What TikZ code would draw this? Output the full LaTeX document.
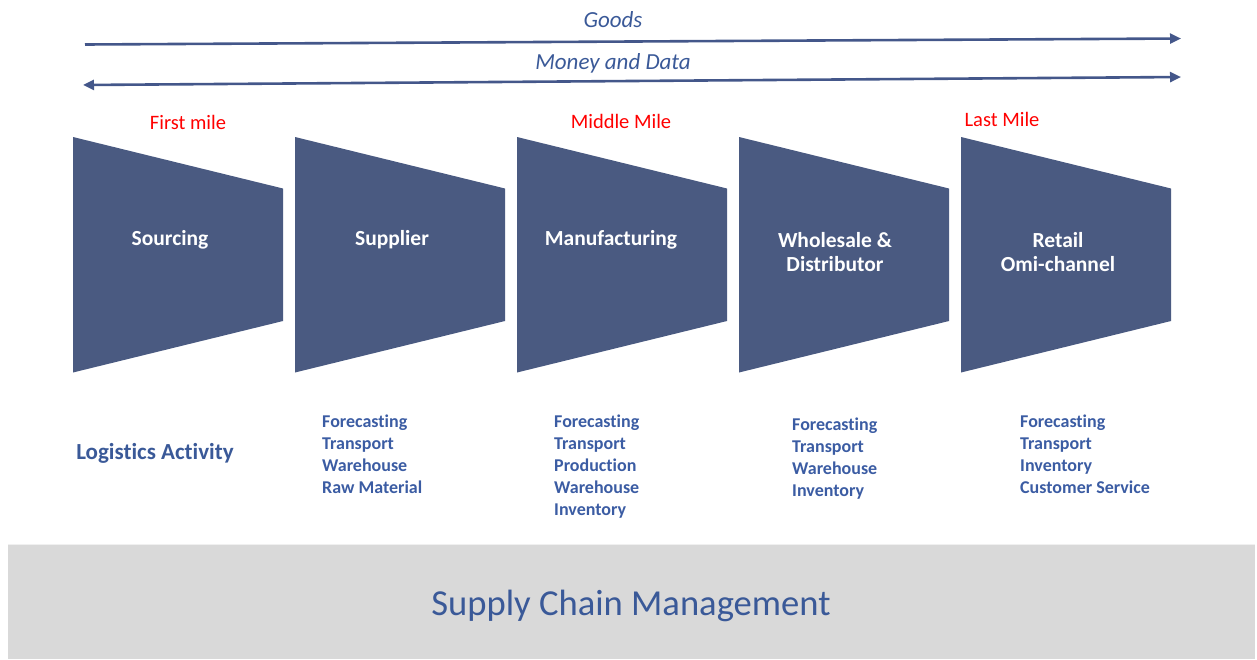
\documentclass[tikz,border=0pt]{standalone}
\usepackage{fontspec}
\setmainfont{Carlito}[Ligatures=NoCommon]
\usetikzlibrary{arrows.meta}
\definecolor{trap}{HTML}{4A5A81}
\definecolor{arrowc}{HTML}{44578A}
\definecolor{txtblue}{HTML}{3A5998}
\definecolor{listblue}{HTML}{3B5CA3}
\definecolor{band}{HTML}{D9D9D9}
\tikzset{
  flowarrow/.style={draw=arrowc, line width=2.6pt, arrows={-{Triangle[length=11pt,width=10pt]}}},
  flowlabel/.style={font=\fontsize{23}{27}\selectfont\itshape, text=txtblue, inner sep=0pt},
  milelabel/.style={font=\fontsize{20.5}{24}\selectfont, text=red, inner sep=0pt},
  stagebox/.style={fill=trap},
  stagelabel/.style={font=\fontsize{21.5}{24.5}\selectfont\bfseries, text=white, align=center, inner sep=0pt},
  actlist/.style={font=\fontsize{18}{22}\selectfont\bfseries, text=listblue, align=left, anchor=north west, inner sep=0pt},
}
\begin{document}
\begin{tikzpicture}[x=1pt,y=-1pt]
\useasboundingbox (0,0) rectangle (1257,659);
% arrows
\coordinate (g1) at (85,44.5);
\coordinate (g2) at (1181,38.5);
\coordinate (m1) at (83,85);
\coordinate (m2) at (1181,77);
\draw[flowarrow] (g1) -- (g2);
\draw[flowarrow, arrows={{Triangle[length=11pt,width=10pt]}-{Triangle[length=11pt,width=10pt]}}] (m1) -- (m2);
\node[flowlabel] (goods) at (613,20) {Goods};
\node[flowlabel] (money) at (613,63) {Money and Data};
% mile labels
\node[milelabel] (first) at (188,122) {First mile};
\node[milelabel] (middle) at (621,121) {Middle Mile};
\node[milelabel] (last) at (1002,119) {Last Mile};
% trapezoids
\foreach \l in {73,295,517,739,961}{
  \fill[stagebox] (\l,137) -- (\l+210,188.5) -- (\l+210,321) -- (\l,372.5) -- cycle;
}
\node[stagelabel] (sourcing) at (170,240) {Sourcing};
\node[stagelabel] (supplier) at (392,240) {Supplier};
\node[stagelabel] (manuf) at (611,240) {Manufacturing};
\node[stagelabel] (whole) at (835,252) {Wholesale \&\\Distributor};
\node[stagelabel] (retail) at (1058,252) {Retail\\Omi-channel};
% activities
\node[font=\fontsize{23}{27}\selectfont\bfseries, text=txtblue, inner sep=0pt] (logact) at (155,453) {Logistics Activity};
\node[actlist] (a1) at (322,415) {Forecasting\\Transport\\Warehouse\\Raw Material};
\node[actlist] (a2) at (554,415) {Forecasting\\Transport\\Production\\Warehouse\\Inventory};
\node[actlist] (a3) at (792,418) {Forecasting\\Transport\\Warehouse\\Inventory};
\node[actlist] (a4) at (1020,415) {Forecasting\\Transport\\Inventory\\Customer Service};
% band
\fill[band] (8,544) rectangle (1255,659);
\draw[white!60!band, line width=1pt] (8,544.5) -- (1255,544.5);
\node[font=\fontsize{36.6}{40}\selectfont, text=txtblue, inner sep=0pt] (scm) at (631,606) {Supply Chain Management};
\end{tikzpicture}
\end{document}
